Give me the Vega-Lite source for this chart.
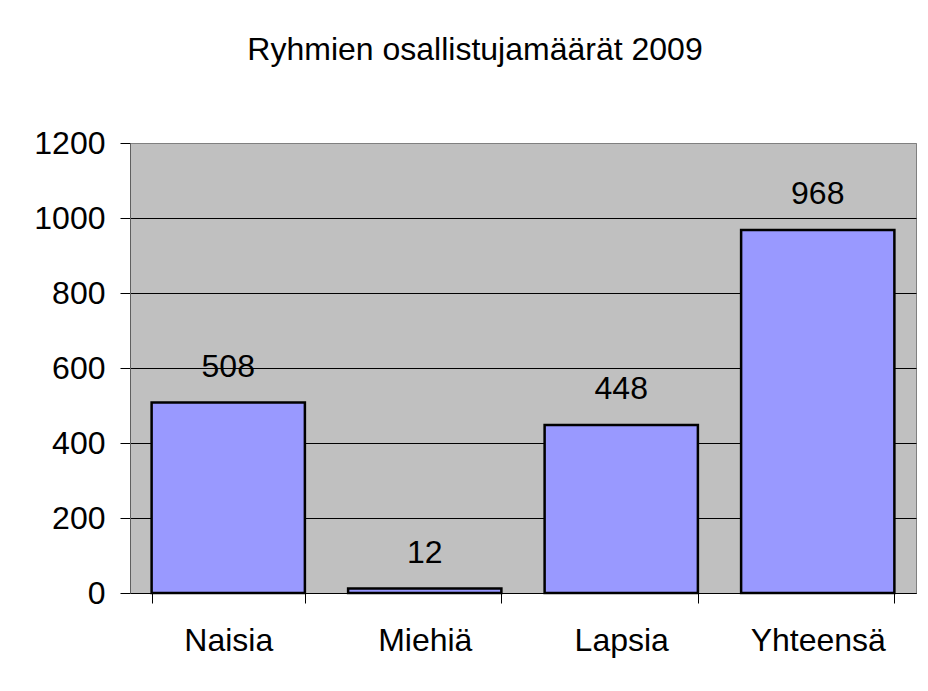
{
  "$schema": "https://vega.github.io/schema/vega-lite/v6.json",
  "width": 786,
  "height": 450,
  "autosize": {"type": "none"},
  "padding": {"left": 130, "top": 143, "right": 12, "bottom": 98},
  "background": "white",
  "title": {
    "text": "Ryhmien osallistujamäärät 2009",
    "font": "Liberation Sans",
    "fontSize": 32,
    "fontWeight": "normal",
    "color": "black",
    "anchor": "middle",
    "frame": "group",
    "baseline": "alphabetic",
    "offset": 35,
    "dx": -48
  },
  "data": {
    "values": [
      {"ryhma": "Naisia", "maara": 508},
      {"ryhma": "Miehiä", "maara": 12},
      {"ryhma": "Lapsia", "maara": 448},
      {"ryhma": "Yhteensä", "maara": 968}
    ]
  },
  "encoding": {
    "x": {
      "field": "ryhma",
      "type": "nominal",
      "sort": null,
      "scale": {"paddingInner": 0.22, "paddingOuter": 0.11},
      "axis": {
        "title": null,
        "labelAngle": 0,
        "tickBand": "extent",
        "tickSize": 10,
        "tickColor": "black",
        "domainColor": "black",
        "labelPadding": 22,
        "labelFont": "Liberation Sans",
        "labelFontSize": 32,
        "labelColor": "black"
      }
    },
    "y": {
      "field": "maara",
      "type": "quantitative",
      "scale": {"domain": [0, 1200], "nice": false},
      "axis": {
        "title": null,
        "format": "d",
        "values": [0, 200, 400, 600, 800, 1000, 1200],
        "grid": true,
        "gridColor": {"condition": {"test": "datum.value == 1200", "value": "#808080"}, "value": "black"},
        "gridWidth": 1,
        "tickSize": 10,
        "tickColor": "black",
        "domainColor": "#606060",
        "labelPadding": 15,
        "labelFont": "Liberation Sans",
        "labelFontSize": 32,
        "labelColor": "black"
      }
    }
  },
  "layer": [
    {
      "mark": {"type": "bar", "color": "#9999FF", "stroke": "black", "strokeWidth": 2.5}
    },
    {
      "mark": {
        "type": "text",
        "baseline": "alphabetic",
        "dy": -26,
        "font": "Liberation Sans",
        "fontSize": 32,
        "color": "black"
      },
      "encoding": {"text": {"field": "maara", "type": "quantitative"}}
    }
  ],
  "config": {
    "view": {"fill": "#C0C0C0", "stroke": "#808080", "strokeWidth": 1},
    "axis": {"gridOpacity": 1}
  }
}
